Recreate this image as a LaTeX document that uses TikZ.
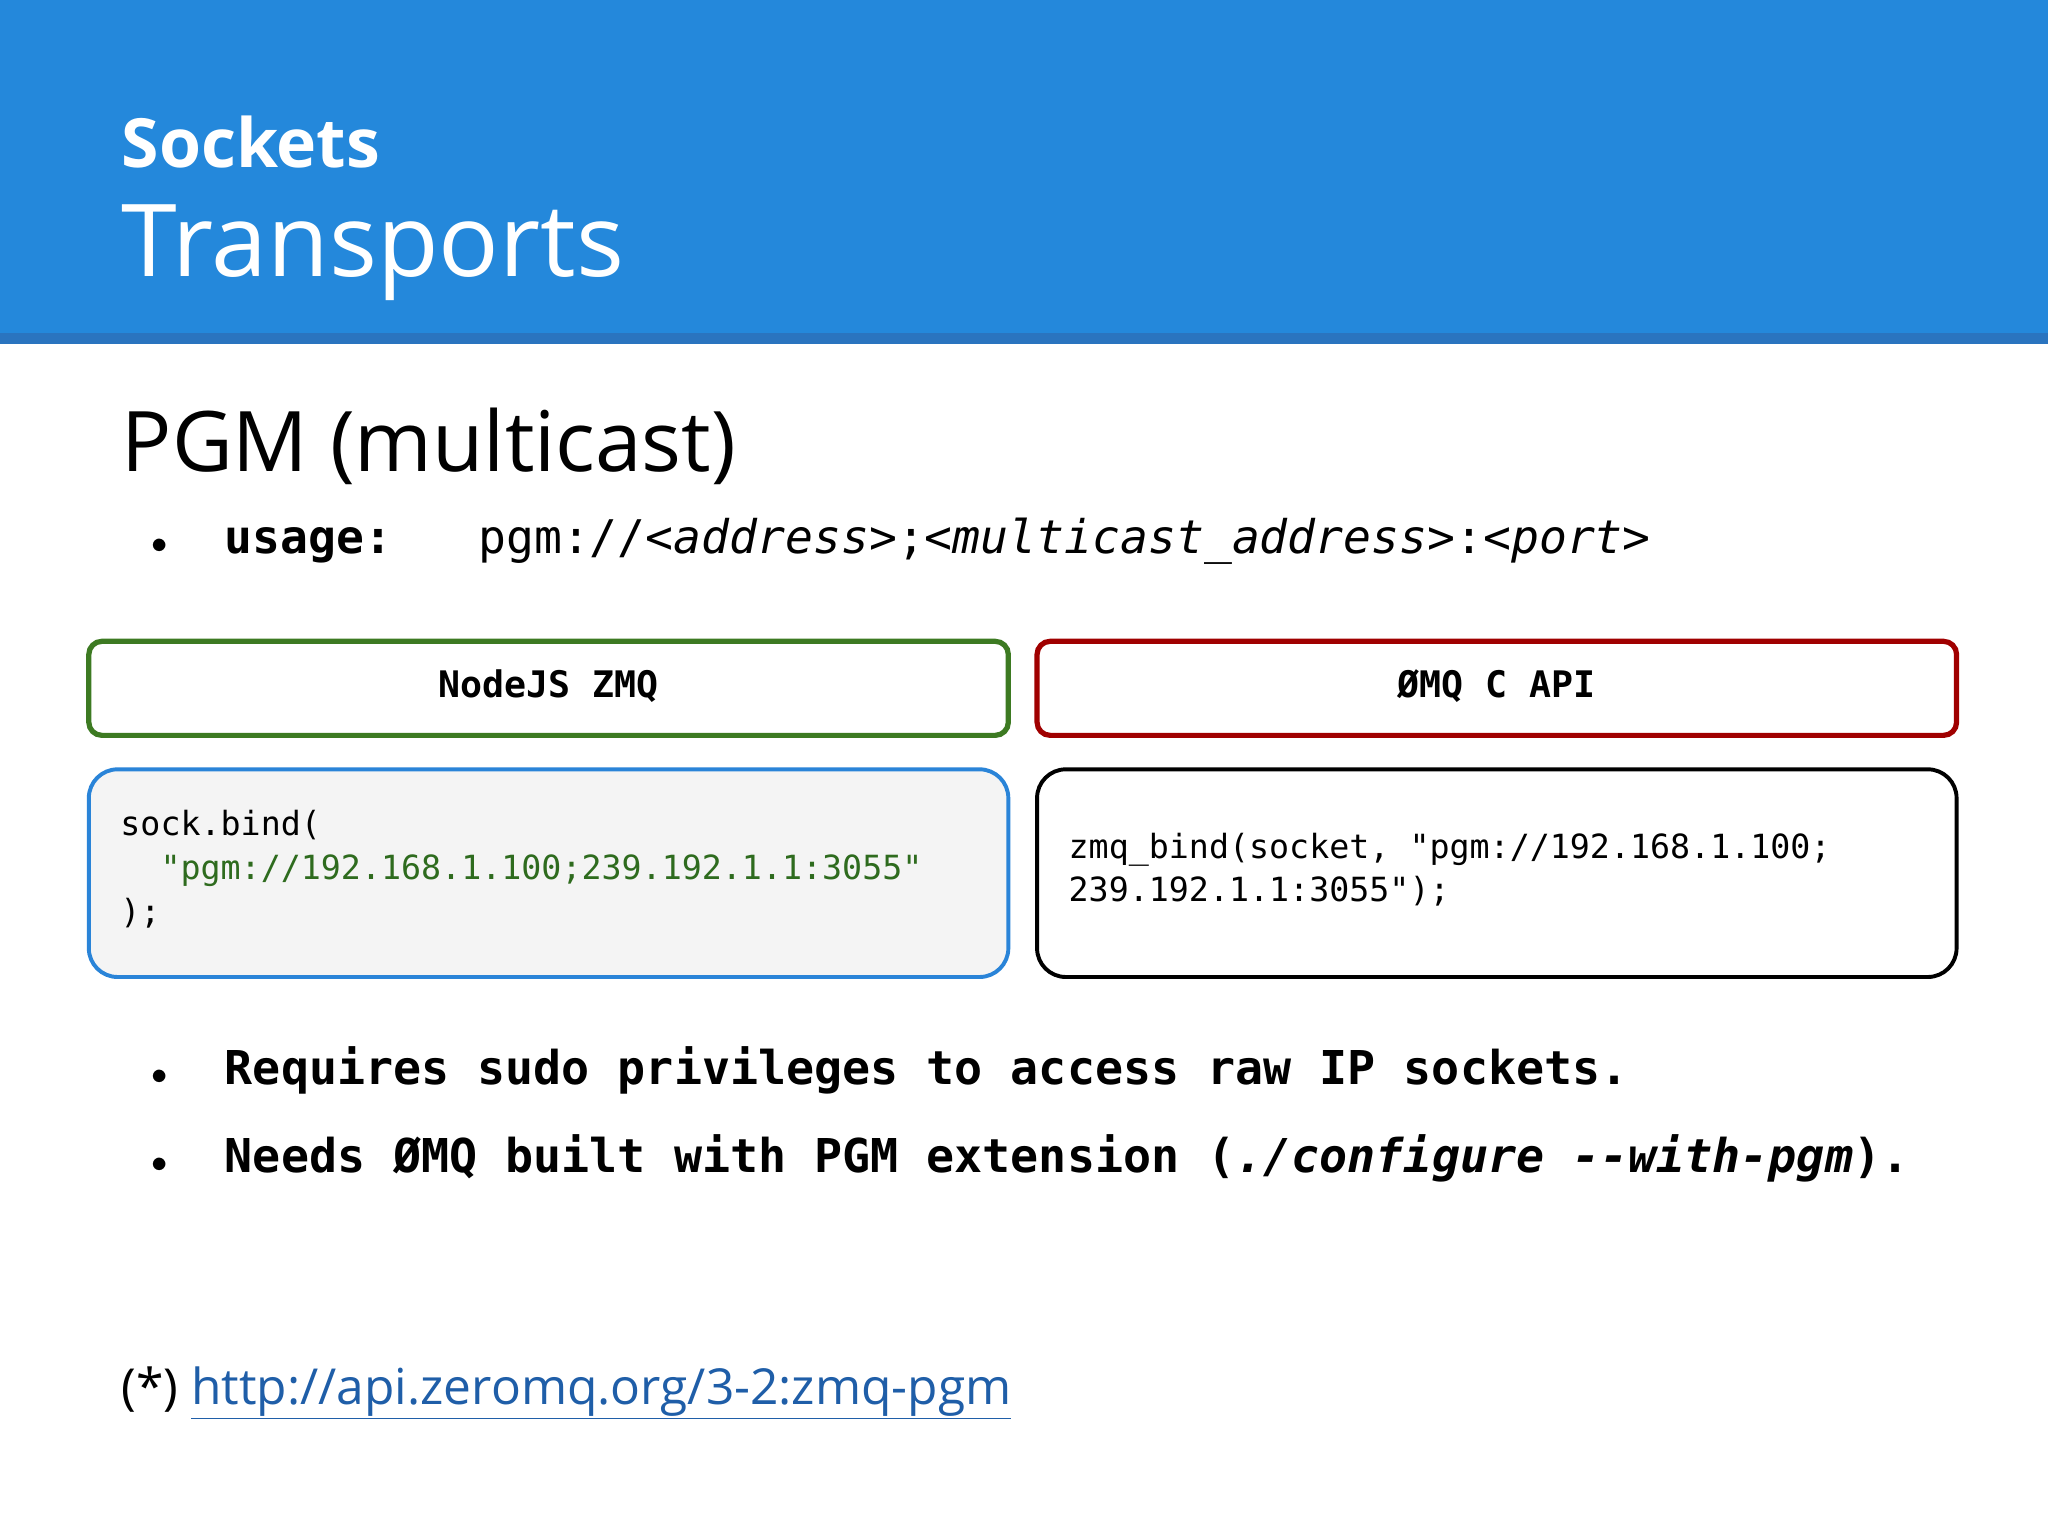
\documentclass[tikz,border=0pt]{standalone}
\usepackage{fontspec}
\setmainfont{Open Sans}
\setmonofont{DejaVu Sans Mono}
\usetikzlibrary{calc}
\definecolor{hdr}{HTML}{2488DB}
\definecolor{hdrline}{HTML}{2A74BF}
\definecolor{gbox}{HTML}{3D7A22}
\definecolor{rbox}{HTML}{A00000}
\definecolor{bbox}{HTML}{2A84D8}
\definecolor{codebg}{HTML}{F4F4F4}
\definecolor{strc}{HTML}{2E6B1E}
\definecolor{link}{HTML}{1F5EA8}
\tikzset{
 titlebox/.style={line width=4pt, rounded corners=10pt, fill=white},
 codebox/.style={line width=3pt, rounded corners=22pt},
 txt/.style={anchor=base west, inner sep=0pt},
}
\newcommand{\fs}[1]{\fontsize{#1pt}{#1pt}\selectfont}
\begin{document}
\begin{tikzpicture}[x=1pt,y=-1pt]
\useasboundingbox (0,0) rectangle (1568,1176);
\fill[white] (0,0) rectangle (1568,1176);
\fill[hdr] (0,0) rectangle (1568,255);
\fill[hdrline] (0,255) rectangle (1568,263);
\node[txt,text=white] (t1) at (93,128) {\fs{52}\bfseries Sockets};
\node[txt,text=white] (t2) at (93,212) {\fs{77}Transports};
\node[txt] (pgm) at (93,361) {\fs{64}PGM (multicast)};
\node[txt] (b0) at (116,424) {\fs{30}$\bullet$};
\node[txt] (usage) at (172,424) {\fs{35.5}\ttfamily\textbf{usage:}};
\node[txt] (usage2) at (366,424) {\fs{35.5}\ttfamily pgm://\textit{<address>};\textit{<multicast\_address>}:\textit{<port>}};
\draw[titlebox,draw=gbox] (68,491) rectangle (772,563);
\node (n1) at (420,525) {\fs{28}\ttfamily\bfseries NodeJS ZMQ};
\draw[titlebox,draw=rbox] (794,491) rectangle (1498,563);
\node (n2) at (1146,525) {\fs{28}\ttfamily\bfseries ØMQ C API};
\draw[codebox,draw=bbox,fill=codebg] (68,589) rectangle (772,748);
\node[txt] (c1) at (92,640) {\fs{25.5}\ttfamily sock.bind(};
\node[txt] (c2) at (92,673) {\fs{25.5}\ttfamily\ \ \textcolor{strc}{"pgm://192.168.1.100;239.192.1.1:3055"}};
\node[txt] (c3) at (92,707) {\fs{25.5}\ttfamily );};
\draw[codebox,draw=black,fill=white] (794,589) rectangle (1498,748);
\node[txt] (d1) at (818,657) {\fs{25.5}\ttfamily zmq\_bind(socket, "pgm://192.168.1.100;};
\node[txt] (d2) at (818,690) {\fs{25.5}\ttfamily 239.192.1.1:3055");};
\node[txt] (b1) at (116,830) {\fs{30}$\bullet$};
\node[txt] (r1) at (172,830) {\fs{35.7}\ttfamily\bfseries Requires sudo privileges to access raw IP sockets.};
\node[txt] (b2) at (116,898) {\fs{30}$\bullet$};
\node[txt] (r2) at (172,898) {\fs{35.7}\ttfamily\bfseries Needs ØMQ built with PGM extension (\textit{./configure --with-pgm}).};
\node[txt] (foot) at (93,1075) {\fs{38}(*) \textcolor{link}{\underline{http://api.zeromq.org/3-2:zmq-pgm}}};
\end{tikzpicture}
\end{document}
